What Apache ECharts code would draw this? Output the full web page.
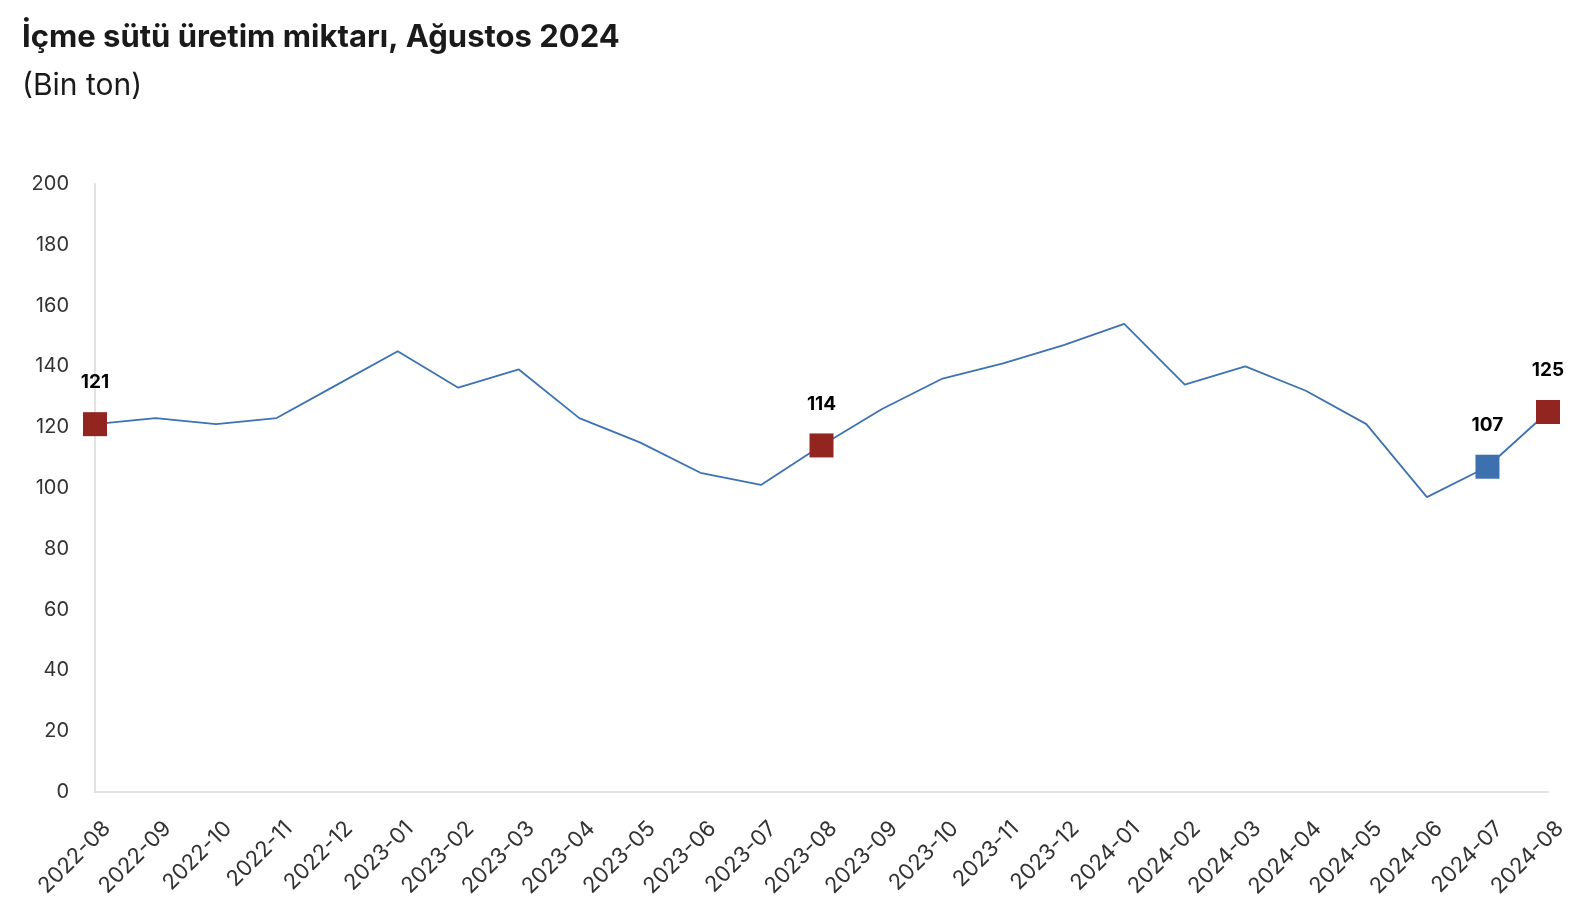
<!DOCTYPE html>
<html><head><meta charset="utf-8">
<script src="https://cdn.jsdelivr.net/npm/echarts@6/dist/echarts.min.js"></script>
<style>html,body{margin:0;padding:0;background:#fff}#c{width:1594px;height:916px}</style>
</head><body><div id="c"></div>
<script>
const categories = ['2022-08','2022-09','2022-10','2022-11','2022-12','2023-01','2023-02','2023-03','2023-04','2023-05','2023-06','2023-07','2023-08','2023-09','2023-10','2023-11','2023-12','2024-01','2024-02','2024-03','2024-04','2024-05','2024-06','2024-07','2024-08'];
const values = [121,123,121,123,134,145,133,139,123,115,105,101,114,126,136,141,147,154,134,140,132,121,97,107,125];
const redMarked = ['2022-08','2023-08','2024-08'];
const blueMarked = ['2024-07'];
const yTicks = {min:0, max:200, interval:20};

const RED = '#922520', BLUE = '#3d70ae';
const FONT = 'Inter, "Noto Sans", sans-serif';
const markData = [];
categories.forEach((c,i)=>{
  if (redMarked.includes(c)) markData.push({value:[c, values[i]], itemStyle:{color:RED}});
  else if (blueMarked.includes(c)) markData.push({value:[c, values[i]], itemStyle:{color:BLUE}});
});

const chart = echarts.init(document.getElementById('c'));
chart.setOption({
  animation:false,
  title:[
    {text:'İçme sütü üretim miktarı, Ağustos 2024', left:17, top:17,
     textStyle:{fontFamily:FONT, fontSize:31, fontWeight:'bold', color:'#1a1a1a'}},
    {text:'(Bin ton)', left:17, top:66,
     textStyle:{fontFamily:FONT, fontSize:30, fontWeight:'normal', color:'#1a1a1a'}}
  ],
  grid:{left:95, right:46, top:184, bottom:124, containLabel:false},
  xAxis:{type:'category', data:categories, boundaryGap:false,
    axisLine:{lineStyle:{color:'#e2e2e2', width:2}},
    axisTick:{show:false},
    axisLabel:{rotate:45, interval:0, fontFamily:FONT, fontSize:22, color:'#333', margin:21,
      verticalAlign:'top', padding:[6,0,0,0]}},
  yAxis:{type:'value', min:yTicks.min, max:yTicks.max, interval:yTicks.interval,
    axisLine:{show:true, lineStyle:{color:'#e2e2e2', width:2}},
    axisTick:{show:false}, splitLine:{show:false},
    axisLabel:{fontFamily:FONT, fontSize:20, color:'#333', margin:26}},
  series:[
    {type:'line', data:values, symbol:'none', lineStyle:{color:'#3d72b3', width:1.8}, z:2},
    {type:'scatter', data:markData, symbol:'rect', symbolSize:24, z:3,
     itemStyle:{opacity:1},
     label:{show:true, position:'top', distance:20, formatter:p=>p.value[1],
       fontFamily:FONT, fontSize:19, fontWeight:'bold', color:'#000'}}
  ]
});
</script></body></html>
